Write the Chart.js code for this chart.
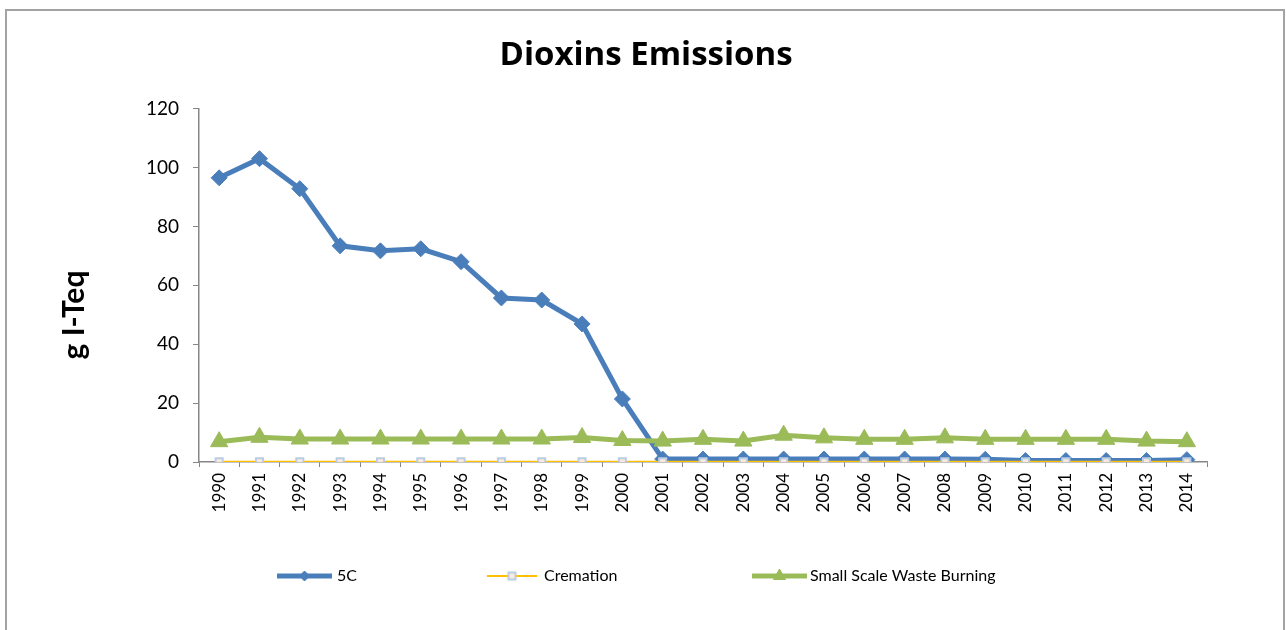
<!DOCTYPE html>
<html>
<head>
<meta charset="utf-8">
<script src="https://cdn.jsdelivr.net/npm/chart.js@4.4.1/dist/chart.umd.min.js"></script>
<style>
  body { margin: 0; background: #fff; }
  #wrap { position: relative; width: 1286px; height: 630px; overflow: hidden; }
  #frame { position: absolute; left: 5px; top: 9px; width: 1276px; height: 640px; border: 2px solid #a3a3a3; }
  canvas { position: absolute; left: 0; top: 0; }
</style>
</head>
<body>
<div id="wrap">
  <div id="frame"></div>
  <canvas id="dioxinChart" width="1286" height="630"></canvas>
</div>
<script>
const years = ["1990","1991","1992","1993","1994","1995","1996","1997","1998","1999","2000","2001","2002",
  "2003","2004","2005","2006","2007","2008","2009","2010","2011","2012","2013","2014"];

const fiveC = [96.5, 103, 92.8, 73.4, 71.7, 72.4, 68, 55.7, 55, 46.9, 21.4, 1.0, 1.0,
  1.0, 1.0, 1.0, 1.0, 1.0, 1.0, 0.9, 0.5, 0.5, 0.5, 0.5, 0.8];

const cremation = [0.1, 0.1, 0.1, 0.1, 0.1, 0.1, 0.1, 0.1, 0.1, 0.1, 0.1, 0.1, 0.1,
  0.1, 0.1, 0.1, 0.1, 0.1, 0.1, 0.1, 0.1, 0.1, 0.1, 0.1, 0.1];

const wasteBurning = [6.9, 8.4, 7.8, 7.8, 7.8, 7.8, 7.8, 7.8, 7.8, 8.3, 7.3, 7.1, 7.7,
  7.1, 9.1, 8.2, 7.7, 7.7, 8.2, 7.7, 7.7, 7.7, 7.7, 7.1, 6.9];

const seriesNames = ["5C", "Cremation", "Small Scale Waste Burning"];
const yTitle = "g I-Teq";

const FONT = "Lato, 'Open Sans', sans-serif";
const AXIS_GRAY = "#868686";

// legend + y title drawn by hand so they sit where Excel put them
const legendSpots = [
  {line: [277, 332], text: 337},
  {line: [487, 537], text: 544},
  {line: [752, 807], text: 810}
];

const excelExtras = {
  id: "excelExtras",
  afterDraw(chart) {
    const ctx = chart.ctx;
    const y = 576;
    chart.data.datasets.forEach((ds) => {
      const spot = legendSpots[ds.legendIndex];
      ctx.save();
      ctx.strokeStyle = ds.borderColor;
      ctx.lineWidth = ds.borderWidth;
      ctx.beginPath();
      ctx.moveTo(spot.line[0], y);
      ctx.lineTo(spot.line[1], y);
      ctx.stroke();
      ctx.fillStyle = ds.pointBackgroundColor;
      ctx.strokeStyle = ds.pointBorderColor;
      ctx.lineWidth = ds.pointBorderWidth;
      Chart.helpers.drawPoint(ctx, {
        pointStyle: ds.pointStyle,
        radius: ds.legendRadius,
        rotation: 0,
        borderWidth: ds.pointBorderWidth
      }, (spot.line[0] + spot.line[1]) / 2, y);
      ctx.fillStyle = "#000";
      ctx.font = "16px " + FONT;
      ctx.textBaseline = "middle";
      ctx.textAlign = "left";
      ctx.fillText(ds.label, spot.text, y);
      ctx.restore();
    });

    ctx.save();
    ctx.translate(74, 315);
    ctx.rotate(-Math.PI / 2);
    ctx.fillStyle = "#000";
    ctx.font = "bold 30px " + FONT;
    ctx.textAlign = "center";
    ctx.textBaseline = "middle";
    ctx.fillText(yTitle, 0, 0);
    ctx.restore();
  }
};

new Chart("dioxinChart", {
  type: "line",
  data: {
    labels: years,
    datasets: [
      {
        label: seriesNames[0],
        data: fiveC,
        borderColor: "#4a7ebb",
        backgroundColor: "#4a7ebb",
        borderWidth: 5,
        pointStyle: "rectRot",
        pointRadius: 8,
        pointBackgroundColor: "#4a7ebb",
        pointBorderColor: "#4a7ebb",
        pointBorderWidth: 1,
        legendRadius: 5,
        legendIndex: 0,
        order: 2
      },
      {
        label: seriesNames[1],
        data: cremation,
        borderColor: "#ffc000",
        backgroundColor: "#fde9d9",
        borderWidth: 2,
        pointStyle: "rect",
        pointRadius: 5,
        pointBackgroundColor: "#fde9d9",
        pointBorderColor: "#b9cde5",
        pointBorderWidth: 2,
        legendRadius: 5,
        legendIndex: 1,
        order: 1
      },
      {
        label: seriesNames[2],
        data: wasteBurning,
        borderColor: "#9bbb59",
        backgroundColor: "#9bbb59",
        borderWidth: 5,
        pointStyle: "triangle",
        pointRadius: 10,
        pointBackgroundColor: "#9bbb59",
        pointBorderColor: "#9bbb59",
        pointBorderWidth: 1,
        legendRadius: 7,
        legendIndex: 2,
        order: 0
      }
    ]
  },
  options: {
    responsive: false,
    animation: false,
    events: [],
    layout: { padding: { left: 85, right: 79, top: 0, bottom: 78 } },
    plugins: {
      legend: { display: false },
      tooltip: { enabled: false },
      title: {
        display: true,
        text: "Dioxins Emissions",
        color: "#000",
        font: { family: "'Open Sans', sans-serif", size: 33, weight: "bold" },
        padding: { top: 36, bottom: 33 }
      }
    },
    scales: {
      x: {
        offset: true,
        grid: { display: true, offset: true, drawOnChartArea: false, tickLength: 5, color: AXIS_GRAY },
        border: { color: AXIS_GRAY, width: 1.5 },
        ticks: { color: "#000", font: { family: FONT, size: 17 }, minRotation: 90, maxRotation: 90, padding: 6, autoSkip: false },
        afterFit(axis) { axis.height = 90; }
      },
      y: {
        min: 0,
        max: 120,
        grid: { display: true, drawOnChartArea: false, tickLength: 6, color: AXIS_GRAY },
        border: { color: AXIS_GRAY, width: 1.5 },
        ticks: { stepSize: 20, color: "#000", font: { family: FONT, size: 19 }, padding: 14 },
        afterFit(axis) { axis.width = 114; }
      }
    }
  },
  plugins: [excelExtras]
});
</script>
</body>
</html>
